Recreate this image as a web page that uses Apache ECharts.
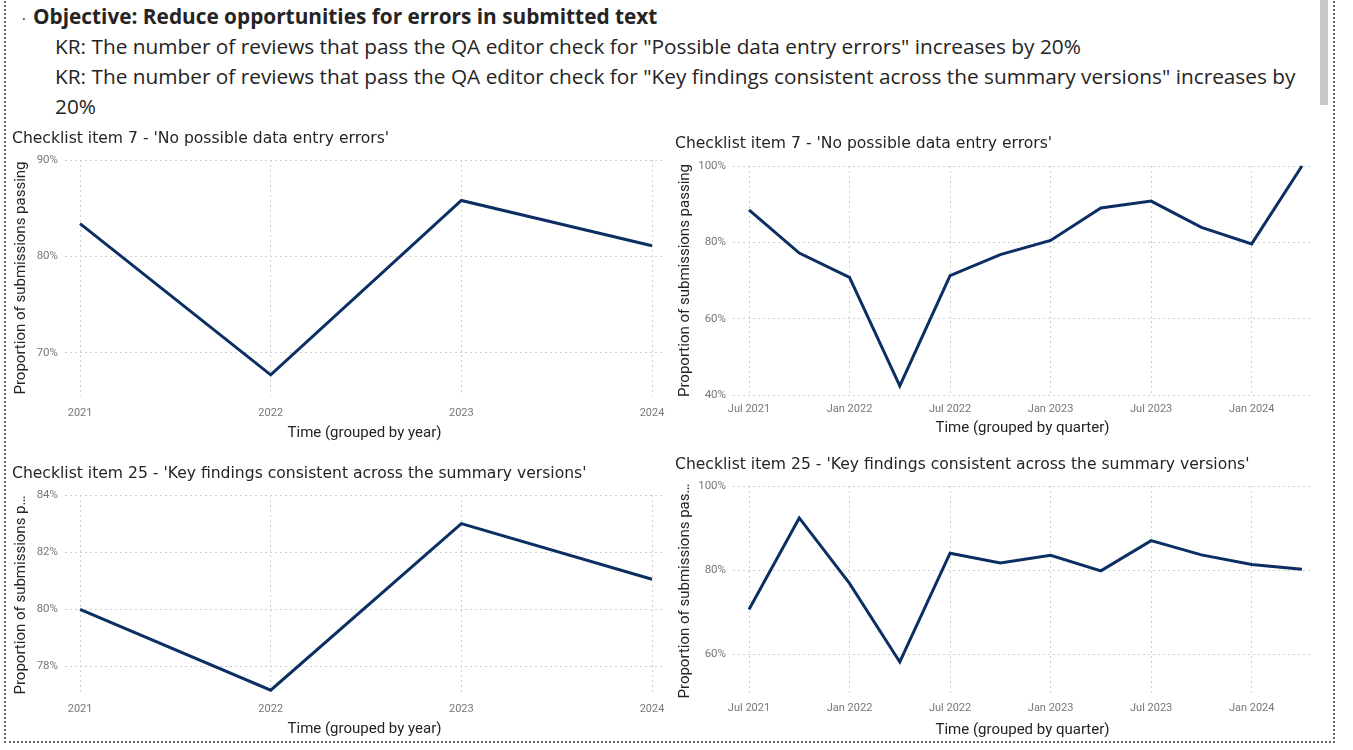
<!DOCTYPE html>
<html><head><meta charset="utf-8">
<script src="https://cdn.jsdelivr.net/npm/echarts@6/dist/echarts.min.js"></script>
<style>
html,body{margin:0;padding:0;width:1353px;height:750px;overflow:hidden;background:#fff;}
#frame{position:absolute;left:4px;top:-10px;width:1331px;height:753px;border:2px dotted #666;box-sizing:border-box;}
#scroll{position:absolute;left:1320px;top:0;width:8px;height:105px;background:#c8c8c8;}
.ln{position:absolute;font-family:'Open Sans',Lato,sans-serif;color:#252423;font-size:20.8px;line-height:30px;white-space:nowrap;}
#chart{position:absolute;left:0;top:0;width:1353px;height:750px;}
</style></head>
<body>
<div id="frame"></div>
<div id="scroll"></div>
<div class="ln" style="left:22px;top:4px;font-size:14px;">·</div>
<div class="ln" style="left:33px;top:1px;font-weight:bold;">Objective: Reduce opportunities for errors in submitted text</div>
<div class="ln" style="left:55px;top:31px;">KR: The number of reviews that pass the QA editor check for "Possible data entry errors" increases by 20%</div>
<div class="ln" style="left:55px;top:61px;">KR: The number of reviews that pass the QA editor check for "Key findings consistent across the summary versions" increases by</div>
<div class="ln" style="left:55px;top:91px;">20%</div>
<div id="chart"></div>
<script>
// ---- data ----
const years = [2021, 2022, 2023, 2024];
const item7Yearly = [83.4, 67.7, 85.8, 81.1];
const item25Yearly = [80.0, 77.17, 83.0, 81.05];
const quarters = ['Jul 2021','Oct 2021','Jan 2022','Apr 2022','Jul 2022','Oct 2022','Jan 2023','Apr 2023','Jul 2023','Oct 2023','Jan 2024','Apr 2024'];
const item7Quarterly = [88.5, 77.2, 70.8, 42.4, 71.3, 76.8, 80.5, 89.0, 90.8, 83.9, 79.6, 100];
const item25Quarterly = [70.6, 92.4, 76.8, 58.1, 84.0, 81.7, 83.5, 79.8, 87.0, 83.6, 81.3, 80.2];
const quarterTickIdx = [0, 2, 4, 6, 8, 10];
const yTicks1 = [70, 80, 90];
const yTicks2 = [40, 60, 80, 100];
const yTicks3 = [78, 80, 82, 84];
const yTicks4 = [60, 80, 100];
const title7 = "Checklist item 7 - 'No possible data entry errors'";
const title25 = "Checklist item 25 - 'Key findings consistent across the summary versions'";
const yName1 = 'Proportion of submissions passing';
const yName3 = 'Proportion of submissions p…';
const yName4 = 'Proportion of submissions pas…';
const xNameYear = 'Time (grouped by year)';
const xNameQuarter = 'Time (grouped by quarter)';

const FONT = 'Roboto';
const TFONT = "'DejaVu Sans', sans-serif";
const LINE = '#0b2f63';
const GRID = '#cfcfcf';

const yearX = {left:65, width:599, min:2020.921, max:2024.063};
const qtrX = {left:733, width:579, min:-0.318, max:11.2};

const panels = [
  {grid:{left:yearX.left, top:160, width:yearX.width, height:236}, title:title7, tLeft:12, tTop:131,
   x:years, xMin:yearX.min, xMax:yearX.max, xTicks:years, xFmt:v=>String(Math.round(v)), xMargin:12, xName:xNameYear, xGap:30,
   y:item7Yearly, yMin:65.5, yMax:90, yTicks:yTicks1, yName:yName1, yGap:36},
  {grid:{left:qtrX.left, top:166, width:qtrX.width, height:229}, title:title7, tLeft:675, tTop:136,
   x:quarters.map((q,i)=>i), xMin:qtrX.min, xMax:qtrX.max, xTicks:quarterTickIdx, xFmt:v=>quarters[Math.round(v)], xMargin:9, xName:xNameQuarter, xGap:26,
   y:item7Quarterly, yMin:40, yMax:100, yTicks:yTicks2, yName:yName1, yGap:40},
  {grid:{left:yearX.left, top:495, width:yearX.width, height:200}, title:title25, tLeft:12, tTop:466,
   x:years, xMin:yearX.min, xMax:yearX.max, xTicks:years, xFmt:v=>String(Math.round(v)), xMargin:9, xName:xNameYear, xGap:27,
   y:item25Yearly, yMin:77, yMax:84, yTicks:yTicks3, yName:yName3, yGap:36},
  {grid:{left:qtrX.left, top:486, width:qtrX.width, height:210}, title:title25, tLeft:675, tTop:457,
   x:quarters.map((q,i)=>i), xMin:qtrX.min, xMax:qtrX.max, xTicks:quarterTickIdx, xFmt:v=>quarters[Math.round(v)], xMargin:7, xName:xNameQuarter, xGap:27,
   y:item25Quarterly, yMin:50, yMax:100, yTicks:yTicks4, yName:yName4, yGap:40}
];

const option = {animation:false, title:[], grid:[], xAxis:[], yAxis:[], series:[]};
panels.forEach((p, i) => {
  option.title.push({text:p.title, left:p.tLeft, top:p.tTop, padding:0,
    textStyle:{fontFamily:TFONT, fontSize:15.6, fontWeight:'normal', color:'#252423'}});
  option.grid.push(Object.assign({containLabel:false}, p.grid));
  const split = {show:true, lineStyle:{color:GRID, width:1, type:[2,3]}};
  option.xAxis.push({type:'value', gridIndex:i, min:p.xMin, max:p.xMax,
    axisLine:{show:false}, axisTick:{show:false, customValues:p.xTicks},
    axisLabel:{customValues:p.xTicks, formatter:p.xFmt, color:'#777', fontSize:11, fontFamily:FONT, margin:p.xMargin},
    splitLine:split, name:p.xName, nameLocation:'middle', nameGap:p.xGap,
    nameTextStyle:{fontFamily:FONT, fontSize:15, color:'#252423'}});
  option.yAxis.push({type:'value', gridIndex:i, min:p.yMin, max:p.yMax,
    axisLine:{show:false}, axisTick:{show:false, customValues:p.yTicks},
    axisLabel:{customValues:p.yTicks, formatter:v=>v+'%', color:'#777', fontSize:11.5, fontFamily:FONT, margin:7},
    splitLine:split, name:p.yName, nameLocation:'middle', nameGap:p.yGap,
    nameTextStyle:{fontFamily:FONT, fontSize:15, color:'#252423'}});
  option.series.push({type:'line', xAxisIndex:i, yAxisIndex:i, showSymbol:false, symbol:'none',
    data:p.x.map((xv, k) => [xv, p.y[k]]),
    lineStyle:{color:LINE, width:3, join:'miter'}});
});

const chart = echarts.init(document.getElementById('chart'), null, {renderer:'canvas'});
chart.setOption(option);
</script>
</body></html>
